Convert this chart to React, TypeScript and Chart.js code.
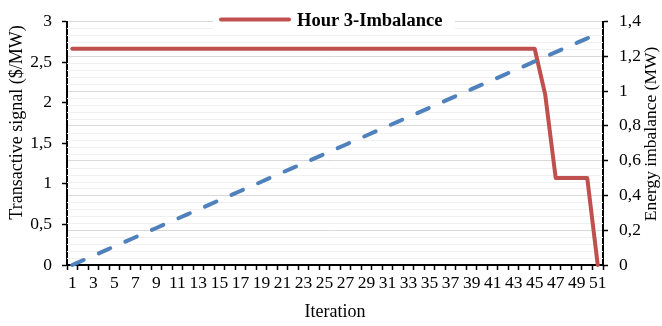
import React, { useEffect, useRef } from 'react';
import { Chart, registerables } from 'chart.js';

Chart.register(...registerables);

const iterations = [
  '1', '2', '3', '4', '5', '6', '7', '8', '9', '10',
  '11', '12', '13', '14', '15', '16', '17', '18', '19', '20',
  '21', '22', '23', '24', '25', '26', '27', '28', '29', '30',
  '31', '32', '33', '34', '35', '36', '37', '38', '39', '40',
  '41', '42', '43', '44', '45', '46', '47', '48', '49', '50', '51',
];

// Transactive signal ($/MW), left axis (blue dashed)
const transactiveSignal = [
  0, 0.057, 0.114, 0.171, 0.228, 0.285, 0.342, 0.399, 0.456, 0.513,
  0.57, 0.627, 0.684, 0.741, 0.798, 0.855, 0.912, 0.969, 1.026, 1.083,
  1.14, 1.197, 1.254, 1.311, 1.368, 1.425, 1.482, 1.539, 1.596, 1.653,
  1.71, 1.767, 1.824, 1.881, 1.938, 1.995, 2.052, 2.109, 2.166, 2.223,
  2.28, 2.337, 2.394, 2.451, 2.508, 2.565, 2.622, 2.679, 2.736, 2.793, 2.85,
];

// Hour 3 imbalance (MW), right axis (red)
const hour3Imbalance = [
  1.243, 1.243, 1.243, 1.243, 1.243, 1.243, 1.243, 1.243, 1.243, 1.243,
  1.243, 1.243, 1.243, 1.243, 1.243, 1.243, 1.243, 1.243, 1.243, 1.243,
  1.243, 1.243, 1.243, 1.243, 1.243, 1.243, 1.243, 1.243, 1.243, 1.243,
  1.243, 1.243, 1.243, 1.243, 1.243, 1.243, 1.243, 1.243, 1.243, 1.243,
  1.243, 1.243, 1.243, 1.243, 1.243, 0.98, 0.5, 0.5, 0.5, 0.5, 0,
];

const signalTicks = [0, 0.5, 1, 1.5, 2, 2.5, 3];
const imbalanceTicks = [0, 0.2, 0.4, 0.6, 0.8, 1, 1.2, 1.4];
const minorDivisions = 5;

const legendLabel = 'Hour 3-Imbalance';
const leftTitle = 'Transactive signal ($/MW)';
const rightTitle = 'Energy imbalance (MW)';
const xTitle = 'Iteration';

const RED = '#C0504D';
const BLUE = '#4F81BD';
const SERIF = '"Liberation Serif", "Times New Roman", serif';
const TICK_SIZE = 17.5;

const fmt = (v: number) => String(v).replace('.', ',');

export default function App() {
  const canvasRef = useRef<HTMLCanvasElement | null>(null);

  useEffect(() => {
    const canvas = canvasRef.current;
    if (!canvas) return;

    const overlay = {
      id: 'overlay',
      beforeDatasetsDraw(chart: any) {
        const { ctx, chartArea } = chart;
        const y1 = chart.scales.y1;
        ctx.save();
        ctx.strokeStyle = '#F0F0F0';
        ctx.lineWidth = 1;
        for (let i = 0; i < imbalanceTicks.length - 1; i++) {
          const a = imbalanceTicks[i];
          const b = imbalanceTicks[i + 1];
          for (let k = 1; k < minorDivisions; k++) {
            const v = a + ((b - a) * k) / minorDivisions;
            const py = Math.round(y1.getPixelForValue(v)) + 0.5;
            ctx.beginPath();
            ctx.moveTo(chartArea.left, py);
            ctx.lineTo(chartArea.right, py);
            ctx.stroke();
          }
        }
        ctx.restore();
      },
      afterDraw(chart: any) {
        const { ctx, chartArea } = chart;
        ctx.save();
        // legend box
        ctx.fillStyle = '#ffffff';
        ctx.fillRect(213, 13.5, 242, 17);
        ctx.strokeStyle = RED;
        ctx.lineWidth = 4;
        ctx.lineCap = 'round';
        ctx.beginPath();
        ctx.moveTo(221, 19.5);
        ctx.lineTo(289, 19.5);
        ctx.stroke();
        ctx.fillStyle = '#000';
        ctx.font = 'bold 18.5px ' + SERIF;
        ctx.textAlign = 'left';
        ctx.textBaseline = 'alphabetic';
        ctx.fillText(legendLabel, 297, 25.7);

        ctx.font = '18px ' + SERIF;
        // left title
        ctx.save();
        ctx.translate(22, 122.5);
        ctx.rotate(-Math.PI / 2);
        ctx.textAlign = 'center';
        ctx.fillText(leftTitle, 0, 0);
        ctx.restore();
        // right title
        ctx.save();
        ctx.font = '17.5px ' + SERIF;
        ctx.translate(656, 134);
        ctx.rotate(-Math.PI / 2);
        ctx.textAlign = 'center';
        ctx.fillText(rightTitle, 0, 0);
        ctx.restore();
        // x title
        ctx.textAlign = 'center';
        ctx.fillText(xTitle, (chartArea.left + chartArea.right) / 2, 317);
        ctx.restore();
      },
    };

    const chart = new Chart(canvas, {
      type: 'line',
      data: {
        labels: iterations,
        datasets: [
          {
            label: legendLabel,
            data: hour3Imbalance,
            yAxisID: 'y1',
            borderColor: RED,
            backgroundColor: RED,
            borderWidth: 4,
            pointRadius: 0,
            borderJoinStyle: 'round',
            borderCapStyle: 'round',
            tension: 0,
            order: 1,
            clip: false,
          },
          {
            label: 'Transactive signal',
            data: transactiveSignal,
            yAxisID: 'y',
            borderColor: BLUE,
            backgroundColor: BLUE,
            borderWidth: 4,
            borderDash: [12.5, 16.5],
            borderCapStyle: 'round',
            pointRadius: 0,
            tension: 0,
            order: 0,
            clip: false,
          },
        ],
      },
      options: {
        animation: false,
        responsive: false,
        devicePixelRatio: 1,
        layout: { padding: { top: 12, left: 0, right: 0, bottom: 0 } },
        plugins: {
          legend: { display: false },
          tooltip: { enabled: false },
          title: { display: false },
        },
        scales: {
          x: {
            type: 'category',
            offset: true,
            grid: {
              offset: true,
              drawOnChartArea: false,
              drawTicks: true,
              tickLength: 5,
              tickColor: '#000',
              tickWidth: 1.5,
            },
            border: { display: true, color: '#000', width: 2 },
            ticks: {
              autoSkip: false,
              maxRotation: 0,
              minRotation: 0,
              padding: 3,
              color: '#000',
              font: { family: SERIF, size: TICK_SIZE },
              callback: (_v: any, i: number) => (i % 2 === 0 ? iterations[i] : ''),
            },
            afterFit: (s: any) => {
              s.height = 61;
            },
          },
          y: {
            type: 'linear',
            position: 'left',
            min: 0,
            max: 3,
            afterBuildTicks: (s: any) => {
              s.ticks = signalTicks.map((v) => ({ value: v }));
            },
            grid: {
              drawOnChartArea: false,
              drawTicks: true,
              tickLength: 5,
              tickColor: '#000',
              tickWidth: 1.5,
            },
            border: { display: true, color: '#000', width: 2 },
            ticks: {
              padding: 10,
              color: '#000',
              font: { family: SERIF, size: TICK_SIZE },
              callback: (v: any) => fmt(Number(v)),
            },
            afterFit: (s: any) => {
              s.width = 67;
            },
          },
          y1: {
            type: 'linear',
            position: 'right',
            min: 0,
            max: 1.4,
            afterBuildTicks: (s: any) => {
              s.ticks = imbalanceTicks.map((v) => ({ value: v }));
            },
            grid: {
              drawOnChartArea: true,
              color: '#D9D9D9',
              lineWidth: 1,
              drawTicks: true,
              tickLength: 5,
              tickColor: '#000',
              tickWidth: 1.5,
            },
            border: { display: true, color: '#000', width: 2 },
            ticks: {
              padding: 11,
              color: '#000',
              font: { family: SERIF, size: TICK_SIZE },
              callback: (v: any) => fmt(Number(v)),
            },
            afterFit: (s: any) => {
              s.width = 59;
            },
          },
        },
      },
      plugins: [overlay],
    } as any);

    return () => {
      chart.destroy();
    };
  }, []);

  return (
    <div style={{ position: 'fixed', left: 0, top: 0, width: 662, height: 326, background: '#fff' }}>
      <canvas ref={canvasRef} width={662} height={326} style={{ display: 'block' }} />
    </div>
  );
}
